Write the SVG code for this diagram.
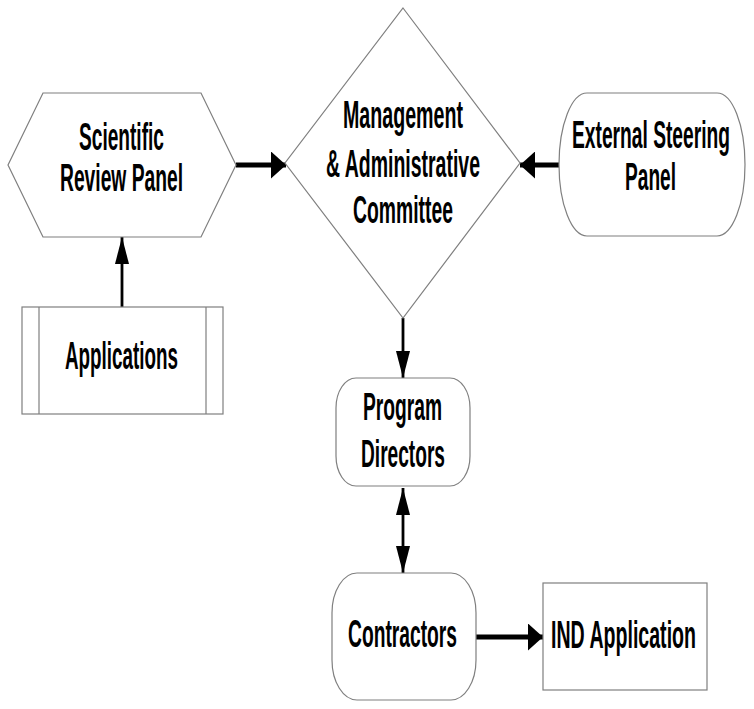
<svg xmlns="http://www.w3.org/2000/svg" width="754" height="709" viewBox="0 0 754 709">
<style>
.shape{fill:#fff;stroke:#7f7f7f;stroke-width:1.2}
.lbl{font-family:"Liberation Sans",Arial,sans-serif;font-weight:bold;font-size:38px;fill:#000;text-anchor:middle}
.h{stroke:#000;stroke-width:5;fill:none}
.v{stroke:#000;stroke-width:2.8;fill:none}
</style>
<defs>
<marker id="arrH" markerUnits="userSpaceOnUse" viewBox="0 0 15 27" refX="15" refY="13.5" markerWidth="15" markerHeight="27" orient="auto-start-reverse"><path d="M0,0 L15,13.5 L0,27 Z" fill="#000"/></marker>
<marker id="arrV" markerUnits="userSpaceOnUse" viewBox="0 0 27 14" refX="27" refY="7" markerWidth="27" markerHeight="14" orient="auto-start-reverse"><path d="M0,0 L27,7 L0,14 Z" fill="#000"/></marker>
</defs>
<rect width="754" height="709" fill="#fff"/>
<g id="connectors">
<line class="h" x1="236" y1="165" x2="286" y2="165" marker-end="url(#arrH)"/>
<line class="h" x1="559" y1="165" x2="520" y2="165" marker-end="url(#arrH)"/>
<line class="v" x1="122" y1="307" x2="122" y2="237" marker-end="url(#arrV)"/>
<line class="v" x1="403" y1="318" x2="403" y2="378" marker-end="url(#arrV)"/>
<line class="v" x1="403" y1="488" x2="403" y2="573" marker-start="url(#arrV)" marker-end="url(#arrV)"/>
<line class="h" x1="476" y1="637" x2="543" y2="637" marker-end="url(#arrH)"/>
</g>
<g id="scientific-review-panel">
<polygon class="shape" points="43,93 201,93 236,165 201,237 43,237 8,165"/>
<text class="lbl" x="121.5" y="150" textLength="85" lengthAdjust="spacingAndGlyphs">Scientific</text>
<text class="lbl" x="121.5" y="191" textLength="123" lengthAdjust="spacingAndGlyphs">Review Panel</text>
</g>
<g id="management-committee">
<polygon class="shape" points="403,8 520,163 403,318 285,163"/>
<text class="lbl" x="403" y="128" textLength="120" lengthAdjust="spacingAndGlyphs">Management</text>
<text class="lbl" x="403" y="177" textLength="154" lengthAdjust="spacingAndGlyphs">&amp; Administrative</text>
<text class="lbl" x="403" y="223" textLength="100" lengthAdjust="spacingAndGlyphs">Committee</text>
</g>
<g id="external-steering-panel">
<rect class="shape" x="559" y="93" width="186" height="143" rx="28" ry="71.5"/>
<text class="lbl" x="651" y="148" textLength="158" lengthAdjust="spacingAndGlyphs">External Steering</text>
<text class="lbl" x="650.5" y="190" textLength="51" lengthAdjust="spacingAndGlyphs">Panel</text>
</g>
<g id="applications">
<rect class="shape" x="22" y="307" width="201" height="107"/>
<line class="shape" x1="39" y1="307" x2="39" y2="414"/>
<line class="shape" x1="206" y1="307" x2="206" y2="414"/>
<text class="lbl" x="121.5" y="369" textLength="113" lengthAdjust="spacingAndGlyphs">Applications</text>
</g>
<g id="program-directors">
<rect class="shape" x="336" y="378" width="134" height="108" rx="20" ry="30"/>
<text class="lbl" x="402.5" y="420" textLength="79" lengthAdjust="spacingAndGlyphs">Program</text>
<text class="lbl" x="403" y="467" textLength="84" lengthAdjust="spacingAndGlyphs">Directors</text>
</g>
<g id="contractors">
<rect class="shape" x="332" y="573" width="144" height="127" rx="25" ry="40"/>
<text class="lbl" x="402.5" y="647" textLength="109" lengthAdjust="spacingAndGlyphs">Contractors</text>
</g>
<g id="ind-application">
<rect class="shape" x="543" y="583" width="164" height="107"/>
<text class="lbl" x="623.5" y="648" textLength="145" lengthAdjust="spacingAndGlyphs">IND Application</text>
</g>
</svg>
